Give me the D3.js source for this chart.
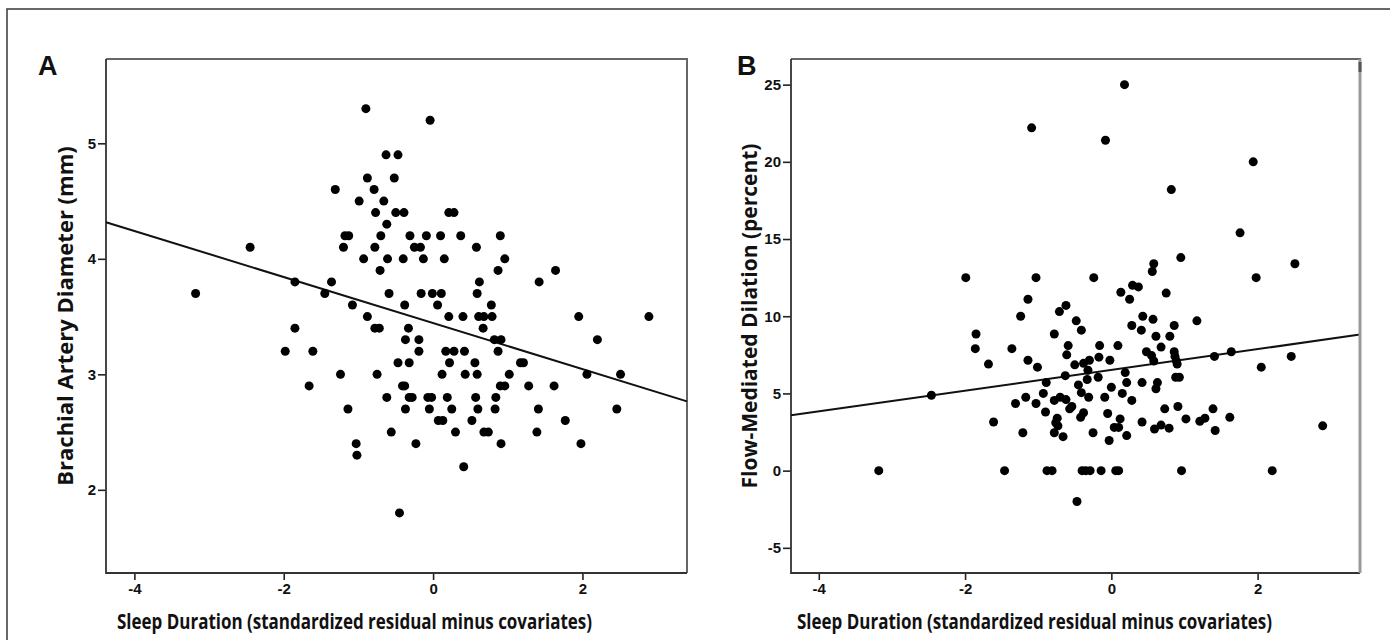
<!DOCTYPE html>
<html>
<head>
<meta charset="utf-8">
<script src="https://cdn.jsdelivr.net/npm/d3@7"></script>
<style>
  body { margin: 0; background: #fff; }
  .tick text { font-family: "Liberation Sans Narrow", "Arial Narrow", sans-serif; font-weight: bold; font-size: 15px; fill: #111; }
  .tick line { stroke: #222; stroke-width: 1.6; }
  .axis_title { font-family: "Open Sans", sans-serif; font-weight: bold; fill: #111; }
  .panel_label { font-family: "Liberation Sans", Arial, sans-serif; font-weight: bold; font-size: 27px; fill: #111; }
</style>
</head>
<body>
<script>
// Sleep duration (x) vs brachial artery diameter in mm (y), panel A
var pointsA = [
  [-0.90,5.3],[-0.04,5.2],[-0.63,4.9],[-0.47,4.9],[-0.88,4.7],[-0.52,4.7],[-1.31,4.6],[-0.79,4.6],
  [-0.99,4.5],[-0.66,4.5],[-0.77,4.4],[-0.50,4.4],[-0.39,4.4],[0.21,4.4],[0.28,4.4],[-0.62,4.3],
  [-1.18,4.2],[-1.13,4.2],[-0.70,4.2],[-0.31,4.2],[-0.09,4.2],[0.10,4.2],[0.37,4.2],[0.90,4.2],
  [-2.45,4.1],[-1.20,4.1],[-0.78,4.1],[-0.25,4.1],[-0.17,4.1],[0.58,4.1],
  [-0.93,4.0],[-0.61,4.0],[-0.40,4.0],[-0.13,4.0],[0.15,4.0],[0.96,4.0],
  [-0.71,3.9],[0.87,3.9],[1.64,3.9],[-1.85,3.8],[-1.36,3.8],[0.62,3.8],[1.42,3.8],
  [-3.18,3.7],[-1.45,3.7],[-0.59,3.7],[-0.16,3.7],[-0.01,3.7],[0.11,3.7],[0.59,3.7],
  [-1.08,3.6],[-0.38,3.6],[0.06,3.6],[0.78,3.6],
  [-0.88,3.5],[0.21,3.5],[0.40,3.5],[0.61,3.5],[0.68,3.5],[0.79,3.5],[1.95,3.5],[2.89,3.5],
  [-1.85,3.4],[-0.78,3.4],[-0.72,3.4],[-0.33,3.4],[0.67,3.4],
  [-0.37,3.3],[-0.19,3.3],[0.82,3.3],[0.91,3.3],[2.20,3.3],
  [-1.98,3.2],[-1.61,3.2],[-0.19,3.2],[0.17,3.2],[0.28,3.2],[0.42,3.2],[0.87,3.2],
  [-0.47,3.1],[-0.32,3.1],[0.22,3.1],[0.56,3.1],[1.17,3.1],[1.21,3.1],
  [-1.24,3.0],[-0.75,3.0],[0.12,3.0],[0.43,3.0],[0.59,3.0],[1.02,3.0],[2.06,3.0],[2.51,3.0],
  [-1.66,2.9],[-0.41,2.9],[-0.38,2.9],[0.90,2.9],[0.96,2.9],[1.28,2.9],[1.62,2.9],
  [-0.62,2.8],[-0.32,2.8],[-0.28,2.8],[-0.07,2.8],[-0.02,2.8],[0.19,2.8],[0.57,2.8],[0.84,2.8],
  [-1.14,2.7],[-0.37,2.7],[-0.05,2.7],[0.25,2.7],[0.60,2.7],[0.83,2.7],[1.41,2.7],[2.46,2.7],
  [0.07,2.6],[0.13,2.6],[0.52,2.6],[1.77,2.6],
  [-0.56,2.5],[0.30,2.5],[0.68,2.5],[0.74,2.5],[1.39,2.5],
  [-1.03,2.4],[-0.23,2.4],[0.91,2.4],[1.98,2.4],
  [-1.02,2.3],[0.41,2.2],[-0.45,1.8]
];

// Sleep duration (x) vs flow-mediated dilation in percent (y), panel B
var pointsB = [
  [0.18,25.0],[-1.09,22.2],[-0.08,21.4],[1.94,20.0],[0.82,18.2],[1.76,15.4],[0.95,13.8],[0.58,13.4],
  [0.56,12.9],[2.51,13.4],[-1.99,12.5],[-1.03,12.5],[-0.24,12.5],[1.98,12.5],[0.13,11.55],[0.29,12.0],
  [0.37,11.9],[0.25,11.1],[0.75,11.5],[-1.14,11.1],[-0.62,10.7],[-0.71,10.3],[-1.24,10.0],[0.43,10.0],
  [0.57,9.8],[-0.48,9.7],[1.17,9.7],[0.28,9.4],[0.86,9.4],[-0.41,9.1],[0.41,9.1],[-1.85,8.85],
  [-0.78,8.85],[0.61,8.7],[0.80,8.7],
  [-1.86,7.9],[-1.36,7.9],[-0.59,8.1],[-0.16,8.1],[0.09,8.1],[-0.61,7.5],[-0.17,7.35],[-1.68,6.9],
  [-1.14,7.15],[-1.01,6.7],[-0.50,6.85],[-0.38,6.95],[-0.30,7.15],[-0.02,7.15],[-0.32,6.5],[-0.18,6.05],
  [-0.63,6.15],[-0.33,5.9],[-0.89,5.7],[-0.45,5.55],[-0.93,5.0],[-1.17,4.75],[-1.31,4.35],[-1.03,4.35],
  [-0.78,4.55],[-0.70,4.75],[-0.62,4.6],[-0.41,5.05],[-0.31,4.75],[-0.54,4.15],[-0.57,4.0],[-0.90,3.8],
  [-0.38,3.75],[-0.42,3.45],[-0.74,3.4],[-0.76,3.1],[-0.73,2.9],[-0.78,2.45],[-0.66,2.2],[-1.21,2.45],
  [-1.61,3.15],[-0.25,2.45],[-0.03,1.95],[-0.05,3.7],[-0.09,4.75],[0.00,5.4],[0.15,5.0],[0.28,4.55],
  [0.19,6.35],[0.21,5.7],[0.42,5.7],[0.42,3.15],[0.12,3.35],[0.04,2.8],[0.10,2.8],[0.21,2.27],[-2.46,4.88],
  [0.48,7.7],[0.55,7.45],[0.58,7.1],[0.68,8.0],[0.86,7.7],[0.87,7.4],[0.89,7.1],[0.90,6.9],
  [0.88,6.05],[0.93,6.05],[0.63,5.7],[0.61,5.3],[0.59,2.7],[0.68,2.95],[0.79,2.75],[0.73,4.0],
  [0.91,4.15],[1.02,3.35],[1.21,3.2],[1.28,3.4],[1.39,4.0],[1.42,2.6],[1.41,7.4],[1.64,7.7],
  [1.62,3.45],[2.05,6.7],[2.46,7.4],[2.89,2.9],
  [-3.18,0],[-1.46,0],[-0.88,0],[-0.81,0],[-0.40,0],[-0.35,0],[-0.29,0],[-0.14,0],
  [0.06,0],[0.10,0],[0.96,0],[2.20,0],[-0.47,-2.0]
];

// fitted regression lines, read at both ends of the x range
var fitA = [[-4.38,4.317],[3.40,2.766]];
var fitB = [[-4.38,3.58],[3.40,8.81]];

var xTicks = [-4,-2,0,2];
var yTicksA = [2,3,4,5];
var yTicksB = [-5,0,5,10,15,20,25];

var xTitle = "Sleep Duration (standardized residual minus covariates)";
var yTitleA = "Brachial Artery Diameter (mm)";
var yTitleB = "Flow-Mediated Dilation (percent)";

var svg = d3.select("body")
            .append("svg")
            .attr("width", 1390)
            .attr("height", 640);

//outer frame of the figure
svg.append("rect")
   .attr("x", 7).attr("y", 9)
   .attr("width", 1400).attr("height", 660)
   .attr("fill", "none")
   .attr("stroke", "#444")
   .attr("stroke-width", 1.6);

function panel(cfg) {
  var x = d3.scaleLinear().domain([-4.38, 3.40]).range([cfg.left, cfg.right]);
  var y = d3.scaleLinear().domain(cfg.ydomain).range([573, 59]);

  var g = svg.append("g");

  //axes
  var xAxis = d3.axisBottom(x).tickValues(xTicks).tickSize(7).tickSizeOuter(0).tickPadding(3)
                .tickFormat(function(d){ return String(d); });
  g.append("g")
   .attr("transform", "translate(0,573)")
   .call(xAxis)
   .call(function(a){ a.select(".domain").remove(); });

  var yAxis = d3.axisLeft(y).tickValues(cfg.yticks).tickSize(8).tickSizeOuter(0).tickPadding(2)
                .tickFormat(function(d){ return String(d); });
  g.append("g")
   .attr("transform", "translate(" + cfg.left + ",0)")
   .call(yAxis)
   .call(function(a){ a.select(".domain").remove(); });

  //plot box: grey top and right, darker axis sides
  g.append("path")
   .attr("d", "M" + cfg.left + ",59H" + cfg.right + "V573")
   .attr("fill", "none")
   .attr("stroke", "#666")
   .attr("stroke-width", 2);
  g.append("path")
   .attr("d", "M" + cfg.left + ",59V573H" + cfg.right)
   .attr("fill", "none")
   .attr("stroke", "#333")
   .attr("stroke-width", 1.8);

  //regression line
  g.append("path")
   .datum(cfg.fit)
   .attr("d", d3.line().x(function(d){ return x(d[0]); }).y(function(d){ return y(d[1]); }))
   .attr("stroke", "#111")
   .attr("stroke-width", 2)
   .attr("fill", "none");

  //points
  g.selectAll("circle")
   .data(cfg.points)
   .enter()
   .append("circle")
   .attr("cx", function(d){ return x(d[0]); })
   .attr("cy", function(d){ return y(d[1]); })
   .attr("r", 4.5)
   .attr("fill", "#000");

  //titles
  g.append("text")
   .attr("class", "axis_title")
   .attr("x", cfg.xtitleX)
   .attr("y", 629)
   .attr("font-size", 21)
   .attr("textLength", 475)
   .attr("lengthAdjust", "spacingAndGlyphs")
   .text(xTitle);

  g.append("text")
   .attr("class", "axis_title")
   .attr("transform", "translate(" + cfg.ytitleX + ",316) rotate(-90)")
   .attr("text-anchor", "middle")
   .attr("font-size", cfg.ytitleSize)
   .text(cfg.ytitle);

  g.append("text")
   .attr("class", "panel_label")
   .attr("x", cfg.labelX)
   .attr("y", 75)
   .text(cfg.label);

  return g;
}

panel({left: 106, right: 687, ydomain: [1.28, 5.73], yticks: yTicksA, points: pointsA, fit: fitA,
       xtitleX: 117, ytitle: yTitleA, ytitleX: 73, ytitleSize: 22, label: "A", labelX: 38});

var gB = panel({left: 791, right: 1360, ydomain: [-6.63, 26.66], yticks: yTicksB, points: pointsB, fit: fitB,
       xtitleX: 797, ytitle: yTitleB, ytitleX: 757, ytitleSize: 21, label: "B", labelX: 737});

//right border of panel B is heavier in the original
gB.append("line")
  .attr("x1", 1360).attr("x2", 1360).attr("y1", 59).attr("y2", 573)
  .attr("stroke", "#999").attr("stroke-width", 3);
gB.append("line")
  .attr("x1", 1360).attr("x2", 1360).attr("y1", 62).attr("y2", 72)
  .attr("stroke", "#555").attr("stroke-width", 3);
</script>
</body>
</html>
